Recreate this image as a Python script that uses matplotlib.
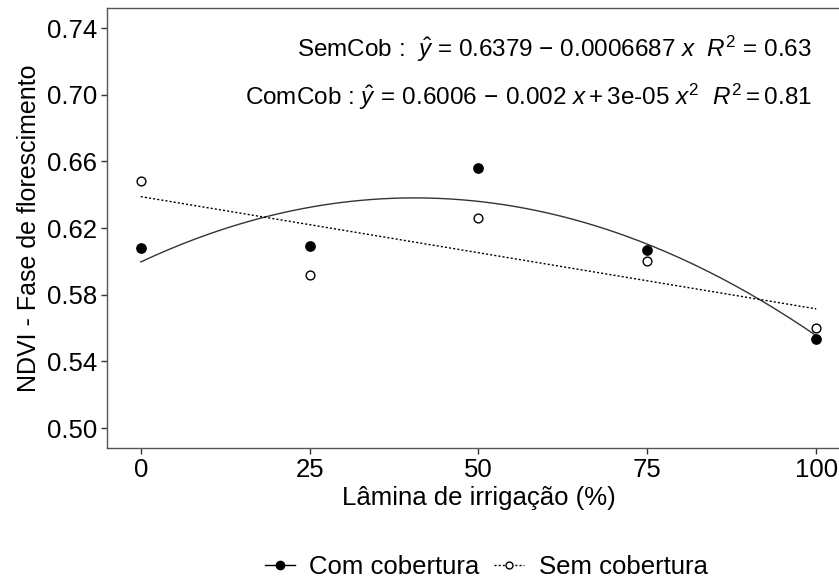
import numpy as np
import matplotlib.pyplot as plt

plt.rcParams['font.family'] = ['Liberation Sans', 'DejaVu Sans']
plt.rcParams['mathtext.fontset'] = 'custom'
plt.rcParams['mathtext.rm'] = 'Liberation Sans'
plt.rcParams['mathtext.it'] = 'Liberation Sans:italic'

# Irrigation levels and NDVI values
lamina = [0, 25, 50, 75, 100]
com_cob = [0.608, 0.609, 0.656, 0.607, 0.5537]
sem_cob = [0.648, 0.592, 0.626, 0.600, 0.5598]

xticks = [0, 25, 50, 75, 100]
yticks = [0.50, 0.54, 0.58, 0.62, 0.66, 0.70, 0.74]

fig = plt.figure(figsize=(8.39, 5.81), dpi=100)
# panel runs slightly past the right edge (cropped like the original)
ax = fig.add_axes([107 / 839, 1 - 448 / 581, 743 / 839, 440 / 581])

xs = np.linspace(0, 100, 200)
# fitted curves
c2 = np.polyfit(lamina, com_cob, 2)
c1 = np.polyfit(lamina, sem_cob, 1)
ax.plot(xs, np.polyval(c2, xs), color='#333333', lw=1.0, ls='-')
ax.plot(xs, np.polyval(c1, xs), color='black', lw=1.0, ls=(0, (1.5, 1.5)))

ax.scatter(lamina, com_cob, s=45, facecolor='black', edgecolor='black', zorder=3)
ax.scatter(lamina, sem_cob, s=40, facecolor='white', edgecolor='black', linewidth=1.0, zorder=3)

ax.set_xlim(-5, 105)
ax.set_ylim(0.488, 0.752)
ax.set_xticks(xticks)
ax.set_xticklabels([str(v) for v in xticks])
ax.set_yticks(yticks)
ax.set_yticklabels([f'{v:.2f}' for v in yticks])
ax.tick_params(labelsize=18.5, length=4, width=1, color='#333333', labelcolor='black', pad=3)
for s in ax.spines.values():
    s.set_color('#555555')
    s.set_linewidth(1.0)

ax.set_xlabel('Lâmina de irrigação (%)', fontsize=18.5, labelpad=3)
ax.set_ylabel('NDVI - Fase de florescimento', fontsize=18, labelpad=4)

ax.text(705 / 743, 0.906,
        r'SemCob :  $\hat{y}$ = 0.6379 $-$ 0.0006687 $x$  $R^2$ = 0.63',
        transform=ax.transAxes, ha='right', va='center', fontsize=17.5)
ax.text(705 / 743, 0.797,
        r'ComCob : $\hat{y}\,=\,0.6006\,-\,0.002\ x + $3e-05$\ x^2$  $R^2 = 0.81$',
        transform=ax.transAxes, ha='right', va='center', fontsize=17.5)

h1, = ax.plot([], [], color='black', lw=1.0, marker='o', ms=6, mfc='black')
h2, = ax.plot([], [], color='black', lw=1.0, ls=(0, (1.5, 1.5)), marker='o', ms=5, mfc='white')
fig.legend([h1, h2], ['Com cobertura', 'Sem cobertura'], loc='center',
           bbox_to_anchor=(486 / 839, 1 - 567 / 581), ncol=2, frameon=False,
           fontsize=18.5, handlelength=1.17, handletextpad=0.55, columnspacing=0.6,
           borderpad=0.0)

fig.savefig('out.png', dpi=100)
